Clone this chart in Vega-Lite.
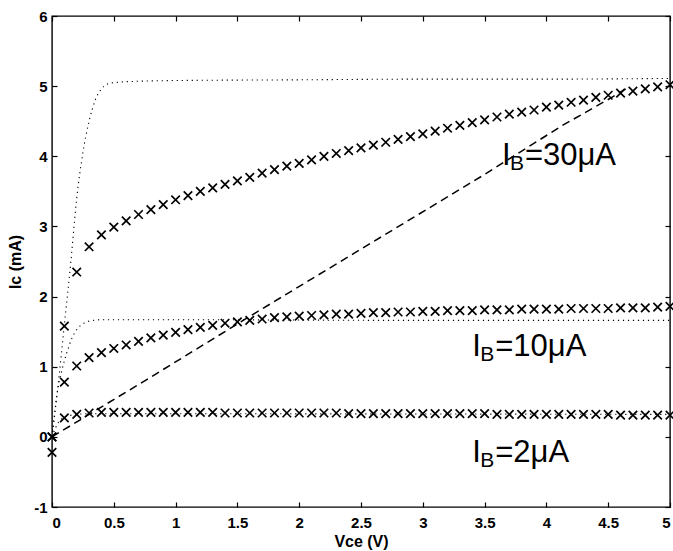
{
  "$schema": "https://vega.github.io/schema/vega-lite/v6.json",
  "width": 618,
  "height": 491,
  "autosize": {"type": "none"},
  "padding": {"left": 52, "top": 16, "right": 3, "bottom": 44},
  "background": "white",
  "config": {
    "view": {"stroke": "black", "strokeWidth": 1.4},
    "axis": {
      "domain": false,
      "grid": false,
      "tickColor": "black",
      "tickSize": -5,
      "tickWidth": 1.2,
      "labelFont": "Liberation Sans",
      "labelFontWeight": "bold",
      "labelFontSize": 15,
      "labelColor": "black",
      "titleFont": "Liberation Sans",
      "titleFontWeight": "bold",
      "titleFontSize": 16,
      "titleColor": "black"
    }
  },
  "datasets": {
    "curves": [
      {"series": "30", "x": 0, "y": 0},
      {"series": "30", "x": 0.05, "y": 0.75},
      {"series": "30", "x": 0.1, "y": 1.6},
      {"series": "30", "x": 0.15, "y": 2.45},
      {"series": "30", "x": 0.2, "y": 3.4},
      {"series": "30", "x": 0.25, "y": 4.05},
      {"series": "30", "x": 0.3, "y": 4.5},
      {"series": "30", "x": 0.35, "y": 4.8},
      {"series": "30", "x": 0.4, "y": 4.96},
      {"series": "30", "x": 0.45, "y": 5.03},
      {"series": "30", "x": 0.5, "y": 5.05},
      {"series": "30", "x": 0.7, "y": 5.07},
      {"series": "30", "x": 1, "y": 5.08},
      {"series": "30", "x": 2, "y": 5.09},
      {"series": "30", "x": 3, "y": 5.1},
      {"series": "30", "x": 4, "y": 5.1},
      {"series": "30", "x": 5, "y": 5.11},
      {"series": "10", "x": 0, "y": 0},
      {"series": "10", "x": 0.04, "y": 0.6},
      {"series": "10", "x": 0.08, "y": 0.95},
      {"series": "10", "x": 0.12, "y": 1.2},
      {"series": "10", "x": 0.16, "y": 1.4},
      {"series": "10", "x": 0.2, "y": 1.53},
      {"series": "10", "x": 0.25, "y": 1.61},
      {"series": "10", "x": 0.3, "y": 1.65},
      {"series": "10", "x": 0.4, "y": 1.67},
      {"series": "10", "x": 1, "y": 1.67},
      {"series": "10", "x": 3, "y": 1.66},
      {"series": "10", "x": 5, "y": 1.66},
      {"series": "2", "x": 0, "y": 0},
      {"series": "2", "x": 0.05, "y": 0.2},
      {"series": "2", "x": 0.1, "y": 0.28},
      {"series": "2", "x": 0.2, "y": 0.32},
      {"series": "2", "x": 0.3, "y": 0.33},
      {"series": "2", "x": 5, "y": 0.32}
    ],
    "load": [
      {"x": 0, "y": 0},
      {"x": 0.77, "y": 0.82},
      {"x": 1.63, "y": 1.75},
      {"x": 3.48, "y": 3.72},
      {"x": 4.13, "y": 4.44},
      {"x": 4.51, "y": 4.82},
      {"x": 4.65, "y": 4.97}
    ],
    "meas": [
      {"series": "30", "x": 0, "y": -0.22},
      {"series": "30", "x": 0.1, "y": 1.58},
      {"series": "30", "x": 0.2, "y": 2.35},
      {"series": "30", "x": 0.3, "y": 2.71},
      {"series": "30", "x": 0.4, "y": 2.88},
      {"series": "30", "x": 0.5, "y": 2.99},
      {"series": "30", "x": 0.6, "y": 3.08},
      {"series": "30", "x": 0.7, "y": 3.17},
      {"series": "30", "x": 0.8, "y": 3.24},
      {"series": "30", "x": 0.9, "y": 3.31},
      {"series": "30", "x": 1.0, "y": 3.38},
      {"series": "30", "x": 1.1, "y": 3.44},
      {"series": "30", "x": 1.2, "y": 3.5},
      {"series": "30", "x": 1.3, "y": 3.55},
      {"series": "30", "x": 1.4, "y": 3.6},
      {"series": "30", "x": 1.5, "y": 3.65},
      {"series": "30", "x": 1.6, "y": 3.7},
      {"series": "30", "x": 1.7, "y": 3.76},
      {"series": "30", "x": 1.8, "y": 3.81},
      {"series": "30", "x": 1.9, "y": 3.86},
      {"series": "30", "x": 2.0, "y": 3.9},
      {"series": "30", "x": 2.1, "y": 3.95},
      {"series": "30", "x": 2.2, "y": 4.0},
      {"series": "30", "x": 2.3, "y": 4.04},
      {"series": "30", "x": 2.4, "y": 4.08},
      {"series": "30", "x": 2.5, "y": 4.12},
      {"series": "30", "x": 2.6, "y": 4.16},
      {"series": "30", "x": 2.7, "y": 4.2},
      {"series": "30", "x": 2.8, "y": 4.24},
      {"series": "30", "x": 2.9, "y": 4.28},
      {"series": "30", "x": 3.0, "y": 4.32},
      {"series": "30", "x": 3.1, "y": 4.36},
      {"series": "30", "x": 3.2, "y": 4.4},
      {"series": "30", "x": 3.3, "y": 4.44},
      {"series": "30", "x": 3.4, "y": 4.48},
      {"series": "30", "x": 3.5, "y": 4.52},
      {"series": "30", "x": 3.6, "y": 4.56},
      {"series": "30", "x": 3.7, "y": 4.6},
      {"series": "30", "x": 3.8, "y": 4.63},
      {"series": "30", "x": 3.9, "y": 4.66},
      {"series": "30", "x": 4.0, "y": 4.7},
      {"series": "30", "x": 4.1, "y": 4.73},
      {"series": "30", "x": 4.2, "y": 4.77},
      {"series": "30", "x": 4.3, "y": 4.8},
      {"series": "30", "x": 4.4, "y": 4.84},
      {"series": "30", "x": 4.5, "y": 4.87},
      {"series": "30", "x": 4.6, "y": 4.9},
      {"series": "30", "x": 4.7, "y": 4.93},
      {"series": "30", "x": 4.8, "y": 4.96},
      {"series": "30", "x": 4.9, "y": 4.99},
      {"series": "30", "x": 5.0, "y": 5.02},
      {"series": "10", "x": 0, "y": 0},
      {"series": "10", "x": 0.1, "y": 0.78},
      {"series": "10", "x": 0.2, "y": 1.01},
      {"series": "10", "x": 0.3, "y": 1.13},
      {"series": "10", "x": 0.4, "y": 1.2},
      {"series": "10", "x": 0.5, "y": 1.26},
      {"series": "10", "x": 0.6, "y": 1.31},
      {"series": "10", "x": 0.7, "y": 1.36},
      {"series": "10", "x": 0.8, "y": 1.41},
      {"series": "10", "x": 0.9, "y": 1.45},
      {"series": "10", "x": 1.0, "y": 1.49},
      {"series": "10", "x": 1.1, "y": 1.53},
      {"series": "10", "x": 1.2, "y": 1.56},
      {"series": "10", "x": 1.3, "y": 1.59},
      {"series": "10", "x": 1.4, "y": 1.62},
      {"series": "10", "x": 1.5, "y": 1.64},
      {"series": "10", "x": 1.6, "y": 1.66},
      {"series": "10", "x": 1.7, "y": 1.68},
      {"series": "10", "x": 1.8, "y": 1.7},
      {"series": "10", "x": 1.9, "y": 1.71},
      {"series": "10", "x": 2.0, "y": 1.72},
      {"series": "10", "x": 2.1, "y": 1.73},
      {"series": "10", "x": 2.2, "y": 1.74},
      {"series": "10", "x": 2.3, "y": 1.75},
      {"series": "10", "x": 2.4, "y": 1.75},
      {"series": "10", "x": 2.5, "y": 1.76},
      {"series": "10", "x": 2.6, "y": 1.77},
      {"series": "10", "x": 2.7, "y": 1.77},
      {"series": "10", "x": 2.8, "y": 1.78},
      {"series": "10", "x": 2.9, "y": 1.78},
      {"series": "10", "x": 3.0, "y": 1.79},
      {"series": "10", "x": 3.1, "y": 1.79},
      {"series": "10", "x": 3.2, "y": 1.8},
      {"series": "10", "x": 3.3, "y": 1.8},
      {"series": "10", "x": 3.4, "y": 1.8},
      {"series": "10", "x": 3.5, "y": 1.81},
      {"series": "10", "x": 3.6, "y": 1.81},
      {"series": "10", "x": 3.7, "y": 1.81},
      {"series": "10", "x": 3.8, "y": 1.82},
      {"series": "10", "x": 3.9, "y": 1.82},
      {"series": "10", "x": 4.0, "y": 1.82},
      {"series": "10", "x": 4.1, "y": 1.82},
      {"series": "10", "x": 4.2, "y": 1.83},
      {"series": "10", "x": 4.3, "y": 1.83},
      {"series": "10", "x": 4.4, "y": 1.83},
      {"series": "10", "x": 4.5, "y": 1.83},
      {"series": "10", "x": 4.6, "y": 1.84},
      {"series": "10", "x": 4.7, "y": 1.84},
      {"series": "10", "x": 4.8, "y": 1.84},
      {"series": "10", "x": 4.9, "y": 1.85},
      {"series": "10", "x": 5.0, "y": 1.86},
      {"series": "2", "x": 0, "y": 0},
      {"series": "2", "x": 0.1, "y": 0.27},
      {"series": "2", "x": 0.2, "y": 0.32},
      {"series": "2", "x": 0.3, "y": 0.34},
      {"series": "2", "x": 0.4, "y": 0.35},
      {"series": "2", "x": 0.5, "y": 0.35},
      {"series": "2", "x": 0.6, "y": 0.35},
      {"series": "2", "x": 0.7, "y": 0.35},
      {"series": "2", "x": 0.8, "y": 0.35},
      {"series": "2", "x": 0.9, "y": 0.35},
      {"series": "2", "x": 1.0, "y": 0.35},
      {"series": "2", "x": 1.1, "y": 0.35},
      {"series": "2", "x": 1.2, "y": 0.35},
      {"series": "2", "x": 1.3, "y": 0.35},
      {"series": "2", "x": 1.4, "y": 0.34},
      {"series": "2", "x": 1.5, "y": 0.34},
      {"series": "2", "x": 1.6, "y": 0.34},
      {"series": "2", "x": 1.7, "y": 0.34},
      {"series": "2", "x": 1.8, "y": 0.34},
      {"series": "2", "x": 1.9, "y": 0.34},
      {"series": "2", "x": 2.0, "y": 0.34},
      {"series": "2", "x": 2.1, "y": 0.34},
      {"series": "2", "x": 2.2, "y": 0.34},
      {"series": "2", "x": 2.3, "y": 0.34},
      {"series": "2", "x": 2.4, "y": 0.33},
      {"series": "2", "x": 2.5, "y": 0.33},
      {"series": "2", "x": 2.6, "y": 0.33},
      {"series": "2", "x": 2.7, "y": 0.33},
      {"series": "2", "x": 2.8, "y": 0.33},
      {"series": "2", "x": 2.9, "y": 0.33},
      {"series": "2", "x": 3.0, "y": 0.33},
      {"series": "2", "x": 3.1, "y": 0.33},
      {"series": "2", "x": 3.2, "y": 0.33},
      {"series": "2", "x": 3.3, "y": 0.33},
      {"series": "2", "x": 3.4, "y": 0.33},
      {"series": "2", "x": 3.5, "y": 0.33},
      {"series": "2", "x": 3.6, "y": 0.32},
      {"series": "2", "x": 3.7, "y": 0.32},
      {"series": "2", "x": 3.8, "y": 0.32},
      {"series": "2", "x": 3.9, "y": 0.32},
      {"series": "2", "x": 4.0, "y": 0.32},
      {"series": "2", "x": 4.1, "y": 0.32},
      {"series": "2", "x": 4.2, "y": 0.32},
      {"series": "2", "x": 4.3, "y": 0.32},
      {"series": "2", "x": 4.4, "y": 0.32},
      {"series": "2", "x": 4.5, "y": 0.32},
      {"series": "2", "x": 4.6, "y": 0.31},
      {"series": "2", "x": 4.7, "y": 0.31},
      {"series": "2", "x": 4.8, "y": 0.31},
      {"series": "2", "x": 4.9, "y": 0.31},
      {"series": "2", "x": 5.0, "y": 0.31}
    ],
    "labels": [
      {"x": 3.64, "y": 3.87, "main": "I", "sub": "B", "rest": "=30μA"},
      {"x": 3.4, "y": 1.155, "main": "I", "sub": "B", "rest": "=10μA"},
      {"x": 3.4, "y": -0.357, "main": "I", "sub": "B", "rest": "=2μA"}
    ]
  },
  "layer": [
    {
      "layer": [
        {
          "data": {"name": "curves"},
          "mark": {"type": "line", "color": "black", "strokeWidth": 1.1, "strokeDash": [1.2, 3.8], "interpolate": "monotone"},
          "encoding": {
            "x": {"field": "x", "type": "quantitative", "scale": {"domain": [0, 5], "nice": false, "zero": false},
                  "axis": {"values": [0, 0.5, 1, 1.5, 2, 2.5, 3, 3.5, 4, 4.5, 5], "labelExpr": "'' + datum.value", "labelPadding": 13, "title": "Vce (V)", "titlePadding": 3}},
            "y": {"field": "y", "type": "quantitative", "scale": {"domain": [-1, 6], "nice": false, "zero": false},
                  "axis": {"values": [-1, 0, 1, 2, 3, 4, 5, 6], "labelExpr": "'' + datum.value", "labelPadding": 10, "title": "Ic (mA)", "titlePadding": 10}},
            "detail": {"field": "series"}
          }
        },
        {
          "data": {"name": "load"},
          "mark": {"type": "line", "color": "black", "strokeWidth": 1.5, "strokeDash": [8, 5]},
          "encoding": {
            "x": {"field": "x", "type": "quantitative"},
            "y": {"field": "y", "type": "quantitative"}
          }
        },
        {
          "data": {"name": "meas"},
          "mark": {"type": "point", "shape": "M-1,-1L1,1M-1,1L1,-1", "filled": false, "stroke": "black", "strokeWidth": 1.7, "size": 72, "opacity": 1},
          "encoding": {
            "x": {"field": "x", "type": "quantitative"},
            "y": {"field": "y", "type": "quantitative"},
            "detail": {"field": "series"}
          }
        },
        {
          "data": {"name": "labels"},
          "mark": {"type": "text", "font": "Liberation Sans", "fontSize": 31, "align": "left", "baseline": "alphabetic", "color": "black"},
          "encoding": {
            "x": {"field": "x", "type": "quantitative"},
            "y": {"field": "y", "type": "quantitative"},
            "text": {"field": "main"}
          }
        },
        {
          "data": {"name": "labels"},
          "mark": {"type": "text", "font": "Liberation Sans", "fontSize": 21, "align": "left", "baseline": "alphabetic", "color": "black", "dx": 8, "dy": 5},
          "encoding": {
            "x": {"field": "x", "type": "quantitative"},
            "y": {"field": "y", "type": "quantitative"},
            "text": {"field": "sub"}
          }
        },
        {
          "data": {"name": "labels"},
          "mark": {"type": "text", "font": "Liberation Sans", "fontSize": 31, "align": "left", "baseline": "alphabetic", "color": "black", "dx": 23},
          "encoding": {
            "x": {"field": "x", "type": "quantitative"},
            "y": {"field": "y", "type": "quantitative"},
            "text": {"field": "rest"}
          }
        }
      ]
    },
    {
      "data": {"name": "load"},
      "mark": {"type": "point", "opacity": 0},
      "encoding": {
        "x": {"field": "x", "type": "quantitative", "scale": {"domain": [0, 5], "nice": false, "zero": false},
              "axis": {"orient": "top", "values": [0, 0.5, 1, 1.5, 2, 2.5, 3, 3.5, 4, 4.5, 5], "labels": false, "title": null}},
        "y": {"field": "y", "type": "quantitative", "scale": {"domain": [-1, 6], "nice": false, "zero": false},
              "axis": {"orient": "right", "values": [-1, 0, 1, 2, 3, 4, 5, 6], "labels": false, "title": null}}
      }
    }
  ],
  "resolve": {"axis": {"x": "independent", "y": "independent"}}
}
